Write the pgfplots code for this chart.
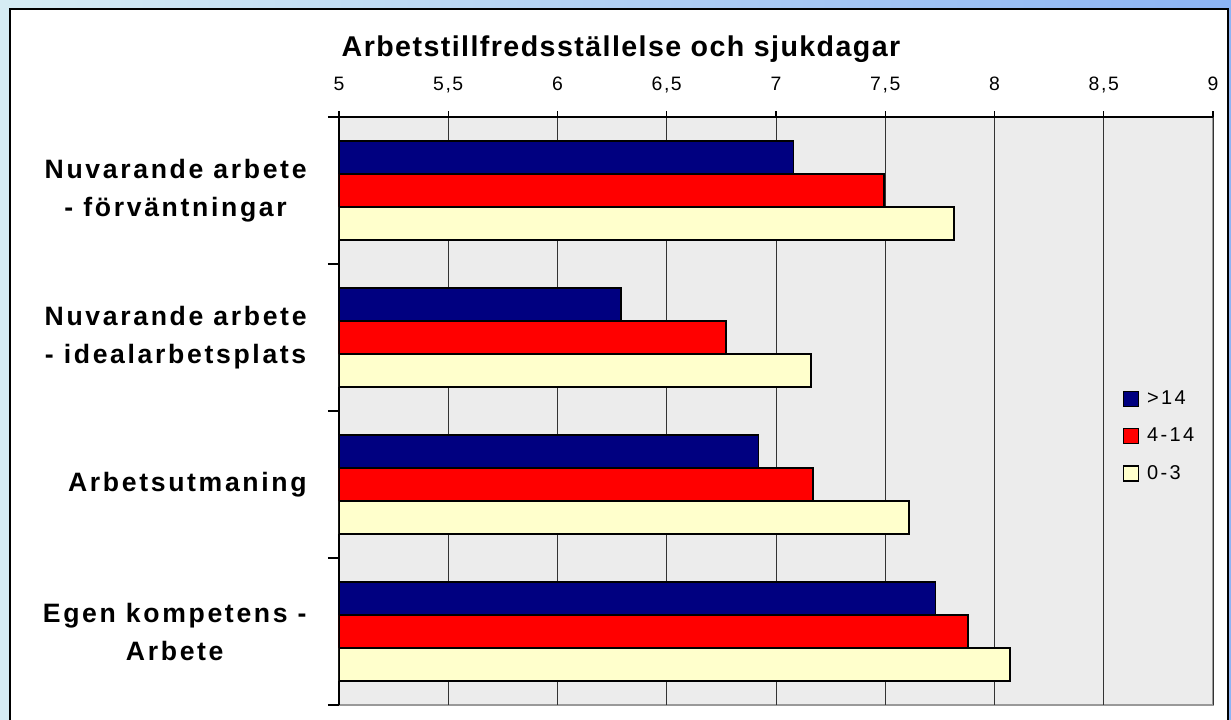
\documentclass[border=0pt]{standalone}
\usepackage{fontspec}
\setmainfont{Liberation Sans}
\newfontfamily\catfont[LetterSpace=10]{Liberation Sans}
\newfontfamily\tickfont[LetterSpace=8]{Liberation Sans}
\newfontfamily\legfont[LetterSpace=12]{Liberation Sans}
\newfontfamily\titlefont[LetterSpace=5]{Liberation Sans}
\usepackage{pgfplots}
\pgfplotsset{compat=1.18}
\definecolor{navybar}{RGB}{0,0,128}
\definecolor{redbar}{RGB}{255,0,0}
\definecolor{yelbar}{RGB}{255,255,204}
\definecolor{plotbg}{RGB}{236,236,236}
\definecolor{frameL}{RGB}{214,236,244}
\definecolor{frameR}{RGB}{140,180,245}
\begin{document}
\begin{tikzpicture}
\clip (-169.5pt,-7pt) rectangle (446pt,352.5pt);
\shade[left color=frameL, right color=frameR] (-169.5pt,-7pt) rectangle (446pt,352.5pt);
\draw[line width=1pt, fill=white] (-164.5pt,-20pt) rectangle (444.5pt,348pt);
\begin{axis}[
  scale only axis, width=437pt, height=294pt,
  at={(0pt,0pt)}, anchor=south west,
  xbar, y dir=reverse, bar width=0.224,
  xmin=5, xmax=9, ymin=-0.5, ymax=3.5,
  axis x line=top, axis y line=left,
  axis line style={-, line width=0.75pt, black},
  axis background/.style={fill=plotbg, draw=gray!80, line width=1pt},
  xtick={5,5.5,6,6.5,7,7.5,8,8.5,9},
  /pgf/number format/use comma,
  /pgf/number format/assume math mode=true,
  xmajorgrids, major grid style={black!80, line width=0.5pt},
  tick align=outside, major tick length=3pt, minor tick length=5.5pt,
  major x tick style={black, line width=0.6pt},
  ytick={0,1,2,3}, minor ytick={-0.5,0.5,1.5,2.5,3.5},
  major y tick style={draw=none},
  minor y tick style={black, line width=0.75pt},
  yticklabels={{Nuvarande arbete\\- förväntningar},{Nuvarande arbete\\- idealarbetsplats},{Arbetsutmaning},{Egen kompetens -\\Arbete}},
  yticklabel style={font=\catfont\fontsize{13.3}{19}\selectfont\bfseries, align=center, inner sep=0pt, xshift=-13pt},
  xticklabel style={font=\tickfont\fontsize{9.7}{11}\selectfont, anchor=base, inner sep=0pt, yshift=10.5pt},
  title={Arbetstillfredsställelse och sjukdagar},
  title style={font=\titlefont\fontsize{14.3}{16}\selectfont\bfseries, at={(0.3227,1.0833)}, anchor=base, inner sep=0pt, yshift=0pt},
  legend style={at={(0.896,0.5422)}, anchor=north west, draw=none, fill=none,
    font=\legfont\fontsize{10}{12}\selectfont, row sep=6.25pt, inner sep=0pt},
  legend cell align=left,
  legend image code/.code={\draw[#1, line width=0.75pt] (0pt,-3.75pt) rectangle (7.5pt,3.75pt); \path (9.5pt,0pt);},
]
\addplot[fill=navybar, draw=black, line width=0.85pt, bar shift=-0.224] coordinates {(7.08,0) (6.29,1) (6.92,2) (7.73,3)};
\addplot[fill=redbar, draw=black, line width=0.85pt, bar shift=0] coordinates {(7.495,0) (6.77,1) (7.17,2) (7.88,3)};
\addplot[fill=yelbar, draw=black, line width=0.85pt, bar shift=0.224] coordinates {(7.815,0) (7.16,1) (7.61,2) (8.07,3)};
\legend{>14,4-14,0-3}
\end{axis}
\end{tikzpicture}
\end{document}
